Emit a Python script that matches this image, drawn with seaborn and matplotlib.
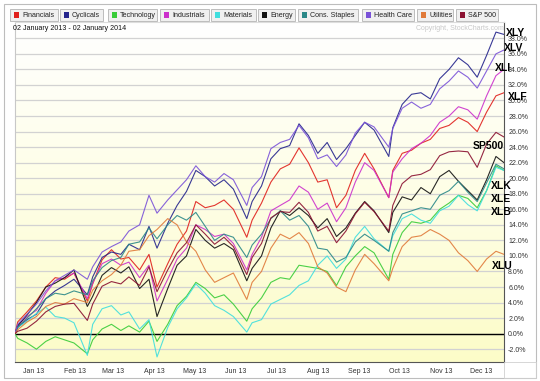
import matplotlib
matplotlib.use("Agg")
import matplotlib.pyplot as plt
import matplotlib.dates as mdates
import numpy as np
import pandas as pd
import seaborn as sns
from matplotlib.colors import LinearSegmentedColormap
from matplotlib.patches import Rectangle

# weekly readings (percent change since 02 Jan 2013)
dates = [
    "2013-01-02", "2013-01-04", "2013-01-11", "2013-01-18", "2013-01-25", "2013-02-01",
    "2013-02-08", "2013-02-15", "2013-02-25", "2013-03-01", "2013-03-08", "2013-03-15",
    "2013-03-22", "2013-03-28", "2013-04-05", "2013-04-12", "2013-04-18", "2013-04-26",
    "2013-05-03", "2013-05-10", "2013-05-17", "2013-05-24", "2013-05-31", "2013-06-07",
    "2013-06-14", "2013-06-24", "2013-06-28", "2013-07-05", "2013-07-12", "2013-07-19",
    "2013-07-26", "2013-08-02", "2013-08-09", "2013-08-16", "2013-08-23", "2013-08-30",
    "2013-09-06", "2013-09-13", "2013-09-20", "2013-09-27", "2013-10-08", "2013-10-11",
    "2013-10-18", "2013-10-25", "2013-11-01", "2013-11-08", "2013-11-15", "2013-11-22",
    "2013-11-29", "2013-12-06", "2013-12-13", "2013-12-20", "2013-12-27", "2014-01-02",
]

xlf = [0.0, 1.5, 2.8, 4.2, 6.0, 7.2, 7.0, 7.8, 4.2, 6.4, 9.5, 10.8, 9.6, 9.8, 8.2, 10.2, 6.0, 9.0,
       11.5, 13.2, 17.0, 16.2, 16.5, 17.2, 16.0, 12.4, 14.6, 16.8, 19.5, 21.2, 21.8, 23.9, 22.0, 19.5,
       19.8, 16.2, 17.8, 21.0, 23.2, 21.2, 17.5, 21.0, 23.2, 23.6, 24.5, 25.0, 26.4, 26.8, 27.8, 27.2,
       26.0, 28.5, 30.6, 31.0]
xly = [0.0, 0.8, 1.8, 2.5, 4.5, 5.5, 6.2, 7.0, 5.0, 7.3, 9.8, 10.5, 10.2, 11.5, 10.8, 13.8, 11.0, 14.2,
       16.5, 18.3, 21.0, 20.2, 19.0, 19.8, 18.6, 14.8, 17.0, 19.0, 22.5, 23.8, 24.2, 27.0, 25.5, 23.2,
       24.6, 22.4, 23.8, 25.5, 27.2, 26.2, 22.8, 26.5, 29.5, 30.8, 31.0, 30.2, 32.8, 34.0, 35.5, 34.6,
       33.0, 35.8, 38.8, 38.5]
xlk = [0.0, -0.6, -1.2, -2.0, -1.0, -0.4, -0.8, -1.2, -2.6, -0.8, 0.6, 1.2, 0.4, 1.0, 0.2, 1.6, -1.0, 1.2,
       3.6, 4.8, 6.6, 5.8, 4.6, 5.0, 3.8, 1.6, 3.2, 4.6, 6.6, 7.2, 7.0, 8.8, 8.6, 8.4,
       8.0, 6.2, 8.6, 10.0, 11.2, 10.4, 7.0, 10.2, 13.0, 14.4, 14.2, 14.6, 16.0, 16.8, 17.8, 17.4,
       16.2, 18.4, 21.6, 21.0]
xli = [0.0, 1.0, 2.2, 3.0, 5.2, 6.8, 7.2, 7.8, 4.5, 6.5, 9.0, 9.6, 8.8, 9.2, 7.2, 8.8, 4.2, 7.0,
       9.6, 11.0, 14.0, 13.4, 12.5, 12.8, 11.6, 8.2, 10.2, 12.4, 15.8, 16.5, 17.2, 19.0, 18.2, 16.0,
       16.8, 14.4, 16.2, 19.5, 22.0, 21.0, 17.5, 20.8, 22.5, 23.8, 24.5, 25.5, 27.2, 28.0, 29.2, 28.8,
       27.6, 30.6, 33.2, 34.0]
xlb = [0.0, 0.8, 1.6, 2.6, 3.4, 2.2, 2.0, 1.4, -2.8, 1.2, 3.2, 3.6, 2.4, 2.8, 0.6, 1.8, -3.0, 0.8,
       3.2, 4.6, 6.4, 5.2, 3.6, 3.0, 2.2, 0.2, 1.4, 1.8, 3.8, 4.4, 5.0, 6.2, 6.8, 8.8,
       10.0, 8.4, 9.6, 12.4, 13.8, 12.2, 10.6, 12.6, 14.8, 15.4, 14.6, 14.2, 15.8, 16.4, 17.8, 16.6,
       15.8, 18.4, 21.4, 21.0]
xle = [0.0, 1.0, 2.4, 4.0, 6.0, 6.5, 7.2, 8.2, 3.5, 4.8, 7.5, 8.5, 7.8, 8.6, 5.8, 7.0, 2.2, 5.8,
       8.8, 10.0, 13.4, 12.0, 11.0, 11.6, 10.8, 6.8, 8.4, 10.0, 13.6, 15.8, 15.2, 16.2, 15.2, 13.6,
       14.8, 12.5, 13.6, 15.5, 17.0, 15.8, 13.0, 15.6, 17.6, 17.2, 18.8, 18.0, 20.2, 21.0, 19.6, 18.4,
       17.2, 19.8, 22.8, 22.0]
xlp = [0.0, 0.8, 2.0, 3.2, 4.5, 5.2, 5.0, 5.5, 5.0, 6.8, 8.5, 9.4, 9.8, 11.5, 11.8, 13.6, 12.2, 14.0,
       15.2, 14.6, 15.6, 13.8, 12.0, 12.8, 12.4, 9.8, 11.4, 12.8, 14.8, 15.8, 14.6, 15.2, 13.8, 11.0,
       10.8, 9.2, 9.8, 11.8, 12.8, 12.0, 10.6, 13.0, 15.4, 15.8, 16.2, 16.0, 17.8, 18.4, 19.6, 18.2,
       17.0, 19.4, 21.8, 21.2]
xlv = [0.0, 1.2, 2.5, 3.8, 5.5, 6.8, 7.5, 8.2, 7.0, 8.6, 10.5, 11.2, 11.8, 13.2, 14.0, 17.8, 15.5, 17.2,
       18.5, 19.8, 21.6, 20.2, 19.5, 20.6, 19.8, 16.5, 18.8, 20.2, 23.8, 24.6, 25.0, 26.8, 25.2, 22.5,
       23.0, 21.5, 23.0, 25.8, 27.2, 26.6, 24.0, 26.4, 29.0, 29.8, 29.0, 29.5, 31.5, 32.5, 33.8, 33.0,
       31.6, 33.8, 36.0, 36.5]
xlu = [0.0, 0.5, 1.5, 2.2, 3.5, 4.0, 3.8, 4.5, 4.0, 5.6, 6.8, 7.6, 8.8, 10.6, 10.8, 12.6, 13.4, 14.8,
       14.0, 11.8, 10.6, 8.2, 6.6, 7.2, 7.8, 4.4, 6.6, 8.0, 11.0, 12.8, 12.2, 13.0, 11.6, 8.6,
       7.8, 6.0, 5.4, 8.2, 10.2, 9.0, 6.8, 8.4, 11.2, 12.4, 12.6, 13.4, 12.8, 12.0, 10.4, 9.4,
       8.0, 9.6, 10.6, 10.2]
sp500 = [0.0, 0.3, 0.7, 1.6, 2.8, 3.5, 3.8, 3.9, 1.7, 3.8, 6.1, 6.7, 6.4, 7.3, 6.2, 8.6, 5.4, 8.2,
         10.4, 11.7, 14.0, 12.8, 11.5, 12.4, 11.2, 7.6, 9.8, 11.6, 14.9, 15.7, 15.6, 16.9, 15.6, 13.2,
         13.8, 11.7, 13.2, 15.4, 16.9, 15.7, 13.2, 16.5, 19.3, 20.3, 20.5, 21.1, 22.9, 23.4, 23.5, 23.4,
         21.4, 24.4, 25.9, 25.3]

sectors = ["Financials", "Cyclicals", "Technology", "Industrials", "Materials", "Energy",
           "Cons. Staples", "Health Care", "Utilities", "S&P 500"]
series = [xlf, xly, xlk, xli, xlb, xle, xlp, xlv, xlu, sp500]
colors = ["#e0201c", "#24248c", "#38cc38", "#cc30cc", "#40dede", "#111111",
          "#2a8888", "#7a52d8", "#e07a3a", "#8a1030"]
tickers = ["XLY", "XLV", "XLI", "XLF", "SP500", "XLK", "XLE", "XLB", "XLU"]
yticks = np.arange(-2, 40, 2)

df = pd.concat(
    [pd.DataFrame({"date": pd.to_datetime(dates), "pct": vals, "sector": name})
     for name, vals in zip(sectors, series)],
    ignore_index=True,
)

sns.set_style("white")
plt.rcParams["font.family"] = ["Liberation Sans", "DejaVu Sans"]

W, H = 540, 381
fig = plt.figure(figsize=(W / 100, H / 100), dpi=100)
ax = fig.add_axes([15 / W, 1 - 362 / H, (504 - 15) / W, (362 - 22) / H])

# pale yellow gradient background
bg = LinearSegmentedColormap.from_list("bg", ["#ffffff", "#fefee6", "#fcfcc8"])
ax.imshow(np.linspace(0, 1, 256).reshape(-1, 1), extent=[0, 1, 0, 1], transform=ax.transAxes,
          aspect="auto", cmap=bg, zorder=0)

sns.lineplot(data=df, x="date", y="pct", hue="sector", hue_order=sectors,
             palette=dict(zip(sectors, colors)), legend=False, ax=ax,
             lw=0.8, alpha=0.9, estimator=None, sort=False, zorder=3)

ax.set_xlim(pd.Timestamp("2013-01-02"), pd.Timestamp("2014-01-02"))
ax.set_ylim(-3.65, 40.1)
ax.set_xlabel("")
ax.set_ylabel("")

ax.set_yticks(yticks)
ax.yaxis.tick_right()
ax.yaxis.set_major_formatter(matplotlib.ticker.FuncFormatter(lambda v, p: f"{v:.1f}%"))
ax.tick_params(axis="y", length=0, pad=3, labelsize=5, labelcolor="#333333")
ax.grid(axis="y", color="#d2d2d2", lw=0.9, zorder=1)
ax.axhline(0, color="black", lw=1.0, zorder=2)

ax.xaxis.set_major_locator(mdates.MonthLocator())
ax.xaxis.set_major_formatter(matplotlib.ticker.NullFormatter())
ax.xaxis.set_minor_locator(mdates.MonthLocator(bymonthday=16))
ax.xaxis.set_minor_formatter(mdates.DateFormatter("%b %y"))
ax.tick_params(axis="x", which="major", length=16, width=0.7, color="#c4c4c4", direction="out")
ax.tick_params(axis="x", which="minor", length=0, pad=4, labelsize=5, labelcolor="#333333")

for side, col in [("left", "#c8c8c8"), ("right", "#555555"), ("bottom", "#555555"), ("top", "#dddddd")]:
    ax.spines[side].set_color(col)
    ax.spines[side].set_linewidth(0.8)

def fx(px):
    return px / W

def fy(py):
    return 1 - py / H

# outer frame
fig.patches.append(Rectangle((fx(4), fy(378)), fx(536) - fx(4), fy(4) - fy(378),
                             transform=fig.transFigure, fill=False, edgecolor="#bdbdbd", lw=0.8))
fig.patches.append(Rectangle((fx(504), fy(378)), fx(536) - fx(504), fy(362) - fy(378),
                             transform=fig.transFigure, fill=False, edgecolor="#d0d0d0", lw=0.6))

# legend buttons across the top
boxes = [(10, 58), (60, 103), (108, 157), (160, 209), (211, 256), (258, 295),
         (298, 358), (362, 414), (417, 453), (456, 498)]
for (x0, x1), name, col in zip(boxes, sectors, colors):
    fig.patches.append(Rectangle((fx(x0), fy(21)), fx(x1) - fx(x0), fy(9) - fy(21),
                                 transform=fig.transFigure, facecolor="#f0f0f0",
                                 edgecolor="#b4b4b4", lw=0.6))
    fig.patches.append(Rectangle((fx(x0 + 4), fy(17.5)), fx(5), fy(12.5) - fy(17.5),
                                 transform=fig.transFigure, facecolor=col, edgecolor="none"))
    fig.text(fx(x0 + 12), fy(15.2), name, fontsize=5.1, va="center", ha="left", color="#222222")

fig.text(fx(13), fy(28), "02 January 2013 - 02 January 2014", fontsize=5.1, va="center", color="#111111")
fig.text(fx(504), fy(28), "Copyright, StockCharts.com", fontsize=5, va="center", ha="right",
         color="#c8c8c8")

# end-of-line ticker labels
label_pos = [(506, 33), (504, 48), (495, 68), (508, 97), (473, 146), (491, 186), (491, 199),
             (491, 212), (492, 266)]
for t, (px, py) in zip(tickers, label_pos):
    fig.text(fx(px), fy(py), t, fontsize=7.5, fontweight="bold", va="center", ha="left",
             color="black", zorder=10)

fig.savefig("out.png", dpi=100)
plt.close(fig)
